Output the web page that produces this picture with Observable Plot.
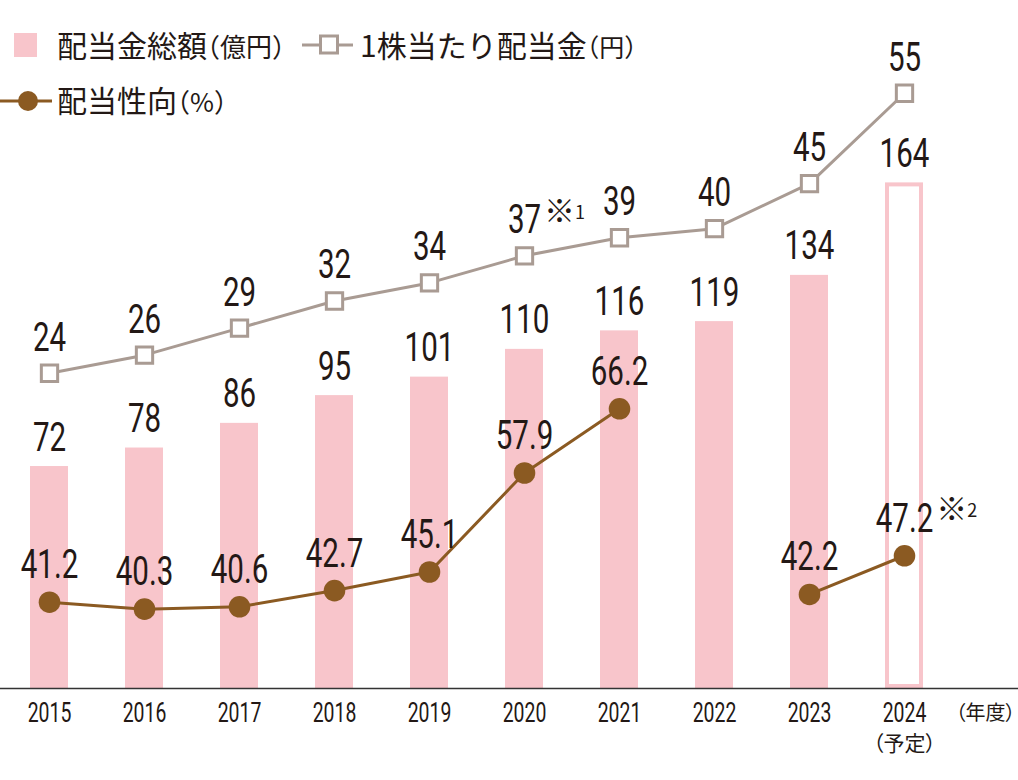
<!DOCTYPE html>
<html>
<head>
<meta charset="utf-8">
<script src="https://cdn.jsdelivr.net/npm/d3@7"></script>
<script src="https://cdn.jsdelivr.net/npm/@observablehq/plot@0.6"></script>
<style>
  html, body { margin: 0; padding: 0; background: #ffffff; }
  #wrap { position: relative; width: 1018px; height: 780px; overflow: hidden; }
  #chart { position: absolute; left: 0; top: 0; }
  #legend { position: absolute; left: 0; top: 0; }
  .palt { font-feature-settings: "palt"; }
  .halt { font-feature-settings: "halt"; }
</style>
</head>
<body>
<div id="wrap">
  <div id="chart"></div>
  <svg id="legend" width="1018" height="130"></svg>
</div>
<script>
// ---------------- data ----------------
const years = ["2015", "2016", "2017", "2018", "2019", "2020", "2021", "2022", "2023", "2024"];
const totalDividend = [72, 78, 86, 95, 101, 110, 116, 119, 134, 164];      // 配当金総額（億円）
const perShareDividend = [24, 26, 29, 32, 34, 37, 39, 40, 45, 55];         // 1株当たり配当金（円）
const payoutRatio = [41.2, 40.3, 40.6, 42.7, 45.1, 57.9, 66.2, null, 42.2, 47.2]; // 配当性向（%）
const plannedYears = ["2024"];
const yearSubLabels = ["", "", "", "", "", "", "", "", "", "（予定）"];
const yearUnit = "（年度）";
const perShareNotes = ["", "", "", "", "", "※1", "", "", "", ""];
const payoutNotes = ["", "", "", "", "", "", "", "", "", "※2"];
const legendLabels = ["配当金総額", "1株当たり配当金", "配当性向"];
const legendUnits = ["（億円）", "（円）", "（%）"];

// ---------------- styles ----------------
const pink = "#f8c5cb";
const gray = "#a99b93";
const brown = "#8b5a22";
const ink = "#231815";
const numFont = "Roboto, 'Liberation Sans', sans-serif";
const cjkFont = "'Noto Sans CJK JP', 'Noto Sans', sans-serif";
const condense = 0.72;

const table = years.map((year, i) => ({
  year,
  total: totalDividend[i],
  perShare: perShareDividend[i],
  payout: payoutRatio[i],
  planned: plannedYears.includes(year),
  sub: yearSubLabels[i],
  perShareNote: perShareNotes[i],
  payoutNote: payoutNotes[i]
}));

// secondary series mapped onto the primary (億円) axis
const perShareToY = v => 31.95 + 2.9296 * v;
const payoutToY = v => -75.38 + 2.5092 * v;
const fmt1 = d3.format(".1f");

// approximate half-width of a condensed numeric label, for placing footnote marks
const halfWidth = s => [...s].reduce((w, c) => w + (c === "." ? 7.8 : 16.6), 0) / 2;

const condText = {fontFamily: numFont, fill: ink, lineAnchor: "bottom"};

const chart = Plot.plot({
  width: 1018,
  height: 780,
  marginTop: 71.4,
  marginBottom: 92,
  marginLeft: 0,
  marginRight: 0,
  style: {background: "transparent", fontFamily: numFont, overflow: "visible"},
  x: {domain: years, range: [1.44, 952.56], paddingInner: 0.6, paddingOuter: 0.3, axis: null},
  y: {domain: [0, 200], axis: null},
  marks: [
    // bars
    Plot.barY(table.filter(d => !d.planned), {x: "year", y: "total", fill: pink}),
    Plot.barY(table.filter(d => d.planned), {x: "year", y: "total", fill: "white", stroke: pink, strokeWidth: 4, inset: 2}),
    Plot.ruleY([0], {stroke: "#333333", strokeWidth: 1.6}),
    // bar labels
    Plot.text(table, {...condText, x: "year", y: "total", text: d => String(d.total), fontSize: 41, dy: -16}),
    // per-share line
    Plot.line(table, {x: "year", y: d => perShareToY(d.perShare), stroke: gray, strokeWidth: 3}),
    Plot.dot(table, {x: "year", y: d => perShareToY(d.perShare), symbol: "square", r: 9.2, fill: "white", stroke: gray, strokeWidth: 3}),
    Plot.text(table, {...condText, x: "year", y: d => perShareToY(d.perShare), text: d => String(d.perShare), fontSize: 41, dy: -22.5}),
    Plot.text(table.filter(d => d.perShareNote), {x: "year", y: d => perShareToY(d.perShare), text: "perShareNote",
      fontFamily: cjkFont, fontSize: 31, fill: ink, textAnchor: "start", lineAnchor: "bottom", dy: -33.5}),
    // payout ratio line
    Plot.line(table, {x: "year", y: d => d.payout == null ? NaN : payoutToY(d.payout), stroke: brown, strokeWidth: 3}),
    Plot.dot(table.filter(d => d.payout != null), {x: "year", y: d => payoutToY(d.payout), r: 10.8, fill: brown}),
    Plot.text(table.filter(d => d.payout != null), {...condText, x: "year", y: d => payoutToY(d.payout), text: d => fmt1(d.payout), fontSize: 41, dy: -24}),
    Plot.text(table.filter(d => d.payoutNote), {x: "year", y: d => payoutToY(d.payout), text: "payoutNote",
      fontFamily: cjkFont, fontSize: 31, fill: ink, textAnchor: "start", lineAnchor: "bottom", dy: -35.5}),
    // x axis labels
    Plot.text(years, {...condText, x: d => d, text: d => d, frameAnchor: "bottom", fontSize: 27, dy: 33.7}),
    Plot.text(table.filter(d => d.sub), {x: "year", text: "sub", frameAnchor: "bottom", fontFamily: cjkFont, fontSize: 21, fill: ink, lineAnchor: "bottom", dy: 62}),
    Plot.text([yearUnit], {text: d => d, frameAnchor: "bottom-right", textAnchor: "end", fontFamily: cjkFont, fontSize: 20, fill: ink, lineAnchor: "bottom", dx: -3, dy: 31})
  ]
});

document.getElementById("chart").appendChild(chart);

chart.querySelectorAll("g").forEach(g => {
  const ff = g.getAttribute("font-family") || "";
  // condense numeric labels horizontally (the original uses a condensed face)
  if (ff.startsWith("Roboto")) {
    g.querySelectorAll("text").forEach(t => {
      const tr = t.getAttribute("transform") || "";
      t.setAttribute("transform", tr + ` scale(${condense},1)`);
    });
  } else if (ff.startsWith("'Noto Sans CJK")) {
    g.querySelectorAll("text").forEach(t => t.classList.add("palt"));
  }
});

// footnote marks: place right of their numeric labels, smaller digit after ※
chart.querySelectorAll("text").forEach(t => {
  const s = t.textContent;
  if (s.startsWith("※")) {
    const row = table.find(d => d.perShareNote === s || d.payoutNote === s);
    const label = row.perShareNote === s ? String(row.perShare) : fmt1(row.payout);
    const tr = t.getAttribute("transform") || "";
    t.setAttribute("transform", tr + ` translate(${halfWidth(label) + 3},0)`);
    const mark = s.slice(0, 1), num = s.slice(1);
    t.textContent = "";
    const ns = "http://www.w3.org/2000/svg";
    const a = document.createElementNS(ns, "tspan"); a.textContent = mark;
    const b = document.createElementNS(ns, "tspan"); b.textContent = num; b.setAttribute("font-size", 18); b.setAttribute("dy", -3);
    t.appendChild(a); t.appendChild(b);
  }
});

// ---------------- legend ----------------
const leg = d3.select("#legend");
const textStyle = sel => sel.attr("font-family", cjkFont).attr("fill", ink);
// item 1: bar
leg.append("rect").attr("x", 14).attr("y", 33).attr("width", 23).attr("height", 24).attr("fill", pink);
const t1 = leg.append("text").attr("x", 57).attr("y", 57).call(textStyle);
t1.append("tspan").attr("font-size", 30).text(legendLabels[0]);
t1.append("tspan").attr("font-size", 26).attr("class", "halt").text(legendUnits[0]);
// item 2: per-share line
leg.append("line").attr("x1", 302).attr("x2", 353).attr("y1", 45).attr("y2", 45).attr("stroke", gray).attr("stroke-width", 3);
leg.append("rect").attr("x", 320.5).attr("y", 36).attr("width", 17).attr("height", 17).attr("fill", "white").attr("stroke", gray).attr("stroke-width", 3);
const t2 = leg.append("text").attr("x", 360).attr("y", 57).call(textStyle);
t2.append("tspan").attr("font-size", 30).text(legendLabels[1]);
t2.append("tspan").attr("font-size", 25).attr("class", "halt").text(legendUnits[1]);
// item 3: payout line
leg.append("line").attr("x1", 0).attr("x2", 52).attr("y1", 101).attr("y2", 101).attr("stroke", brown).attr("stroke-width", 3);
leg.append("circle").attr("cx", 28).attr("cy", 101).attr("r", 10).attr("fill", brown);
const t3 = leg.append("text").attr("x", 57).attr("y", 112).call(textStyle);
t3.append("tspan").attr("font-size", 30).text(legendLabels[2]);
t3.append("tspan").attr("font-size", 26).attr("class", "halt").text(legendUnits[2]);
</script>
</body>
</html>
